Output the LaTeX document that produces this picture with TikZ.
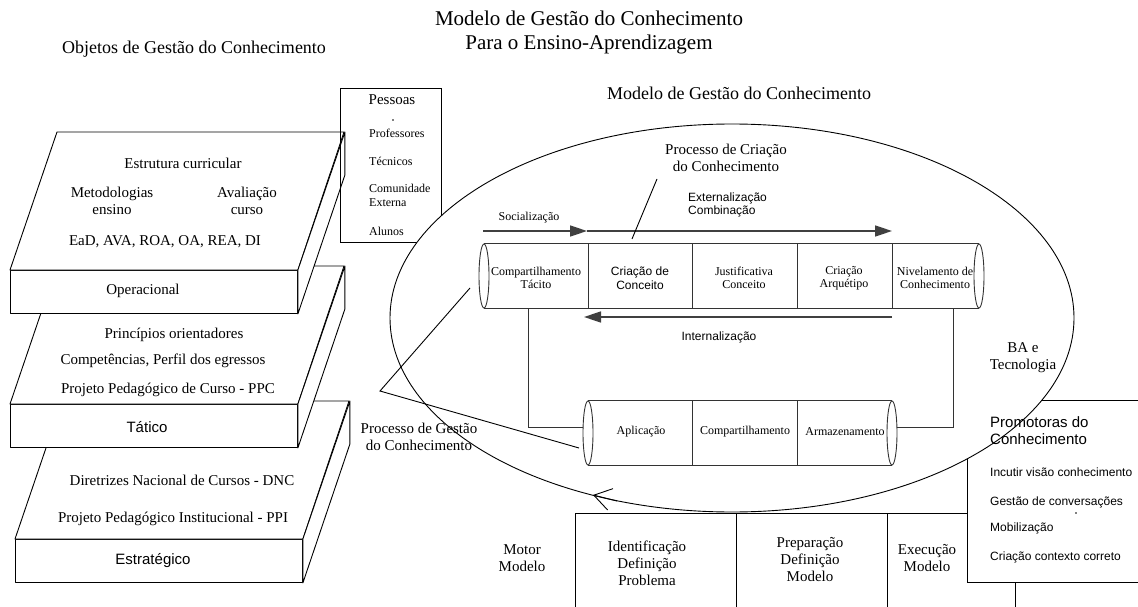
\documentclass[tikz,border=0pt]{standalone}
\usepackage{fontspec}
\setmainfont{Liberation Serif}
\setsansfont{Liberation Sans}
\usetikzlibrary{shapes.geometric,arrows.meta}

\def\dx{47}
\def\dy{138}

\begin{document}
\begin{tikzpicture}[x=1pt,y=-1pt]
        \tikzstyle{slab}  = [draw, fill=white, line width=0.9pt, line join=round]
        \tikzstyle{front} = [slab, minimum width=287pt, minimum height=43pt, inner sep=0pt, anchor=north west]
        \tikzstyle{txt}   = [inner sep=0pt, align=center]
        \tikzstyle{big}   = [txt, font=\fontsize{15}{17}\selectfont]
        \tikzstyle{bigsf} = [txt, font=\sffamily\fontsize{15}{17}\selectfont]
        \tikzstyle{small} = [txt, font=\fontsize{12}{13.5}\selectfont]
        \tikzstyle{smallsf} = [txt, font=\sffamily\fontsize{12}{13.5}\selectfont]
        \tikzstyle{tampa} = [draw=black!80, ellipse, minimum width=10pt, minimum height=64pt, inner sep=0pt, line width=0.9pt]
        \tikzstyle{tube}  = [draw=black!80, line width=0.9pt]
        \tikzstyle{flow}  = [draw=black!75, line width=1.6pt, -{Triangle[length=17pt,width=11pt]}]
        \tikzstyle{rowcell} = [draw, line width=0.9pt, minimum height=110pt, inner sep=0pt, anchor=north west]
        \tikzstyle{ponto} = [circle, fill=black, minimum size=1.6pt, inner sep=0pt]
        \useasboundingbox (0,0) rectangle (1138,607);

        % titulos
        \node[txt, font=\fontsize{21}{24}\selectfont] (titulo) at (589,32) {Modelo de Gestão do Conhecimento\\Para o Ensino-Aprendizagem};
        \node[txt, font=\fontsize{18}{20}\selectfont] (objetos) at (194,49) {Objetos de Gestão do Conhecimento};
        \node[txt, font=\fontsize{18}{20}\selectfont] (modelo) at (739,93) {Modelo de Gestão do Conhecimento};

        % camadas
        \foreach \x/\y/\s in {15/539/estr, 10/404/tat, 10/270/oper}
        {
                \node[front] (\s) at (\x,\y) {};
                \draw[slab] (\s.north west) -- ++(\dx,-\dy) -- ++(287,0) -- (\s.north east) -- cycle;
                \draw[slab] (\s.north east) -- ++(\dx,-\dy) -- ++(0,43) -- (\s.south east) -- cycle;
        }
        \node[big] (estrut) at (183,163) {Estrutura curricular};
        \node[big] (metod) at (112,201) {Metodologias\\ensino};
        \node[big] (aval) at (247,201) {Avaliação\\curso};
        \node[big] (ead) at (165,242) {EaD, AVA, ROA, OA, REA, DI};
        \node[big] (operl) at (143,291) {Operacional};
        \node[big] (princ) at (174,335) {Princípios orientadores};
        \node[big] (compet) at (163,361) {Competências, Perfil dos egressos};
        \node[big] (ppc) at (168,390) {Projeto Pedagógico de Curso - PPC};
        \node[bigsf] (tatl) at (147,427) {Tático};
        \node[big] (dnc) at (182,480) {Diretrizes Nacional de Cursos - DNC};
        \node[big] (ppi) at (173,519) {Projeto Pedagógico Institucional - PPI};
        \node[bigsf] (estrl) at (153,561) {Estratégico};

        % pessoas
        \node[draw, line width=0.9pt, minimum width=101pt, minimum height=154pt, inner sep=0pt, anchor=north west] (pessoas) at (340,88) {};
        \node[big] (pes) at (392,100) {Pessoas};
        \node[ponto] (pdot) at (393,120) {};
        \foreach \y/\t in {133/Professores, 161/Técnicos, 195.5/{Comunidade\\Externa}, 231/Alunos}
                \node[small, anchor=west, align=left] at (369,\y) {\t};

        % motor
        \foreach \a/\w [count=\i] in {575/161, 736/151, 887/128, 1015/130}
                \node[rowcell, minimum width=\w pt] (m\i) at (\a,513) {};
        \node[draw, fill=white, line width=0.9pt, minimum width=175pt, minimum height=182pt, inner sep=0pt, anchor=north west] (promo) at (967,400) {};

        % modelo
        \node[draw, ellipse, fill=white, minimum width=684pt, minimum height=388pt, inner sep=0pt, line width=0.9pt] (elipse) at (732,318) {};
        \draw[line width=0.9pt, -{Straight Barb[length=17pt,width=22pt]}] (617,501) -- (593,495);

        % cilindro superior
        \node[tampa] (c1w) at (484,276) {};
        \node[tampa] (c1e) at (979,276) {};
        \draw[tube] (c1w.north) -- (c1e.north);
        \draw[tube] (c1w.south) -- (c1e.south);
        \foreach \x in {588,692,797,892}
                \draw[tube] (\x,244) -- (\x,308);
        \foreach \x/\t [count=\i] in {536/{Compartilhamento\\Tácito}, 640/{Criação de\\Conceito}, 744/{Justificativa\\Conceito}, 844/{Criação\\Arquétipo}, 935/{Nivelamento de\\Conhecimento}}
        {
                \ifnum \i = 2
                        \node[smallsf] (a\i) at (\x,278) {\t};
                \else
                        \node[small] (a\i) at (\x,278) {\t};
                \fi
        }

        % cilindro inferior
        \node[tampa] (c2w) at (588,433) {};
        \node[tampa] (c2e) at (892,433) {};
        \draw[tube] (c2w.north) -- (c2e.north);
        \draw[tube] (c2w.south) -- (c2e.south);
        \foreach \x in {692,797}
                \draw[tube] (\x,401) -- (\x,465);
        \node[small] (b1) at (641,432) {Aplicação};
        \node[small] (b2) at (745,432) {Compartilhamento};
        \node[small] (b3) at (845,432) {Armazenamento};

        % ligacoes
        \coordinate (k1) at (528,308);
        \coordinate (k2) at (953,308);
        \draw[tube] (k1) |- ([yshift=6pt]c2w.west);
        \draw[tube] (k2) |- ([yshift=6pt]c2e.east);

        % fases
        \coordinate (s0) at (483,231);
        \coordinate (s1) at (587,231);
        \coordinate (s2) at (892,231);
        \coordinate (i0) at (892,317);
        \coordinate (i1) at (584,317);
        \draw[flow] (s0) -- (s1);
        \draw[flow] (s1) -- (s2);
        \draw[flow] (i0) -- (i1);
        \node[small] (soc) at (529,218) {Socialização};
        \node[smallsf, anchor=west, align=left] (ext) at (688,205) {Externalização\\Combinação};
        \node[smallsf] (int) at (719,337) {Internalização};

        % processos
        \node[big] (pcc) at (726,158) {Processo de Criação\\do Conhecimento};
        \coordinate (pcc0) at (657,179);
        \coordinate (pcc1) at (632,239);
        \draw[line width=0.9pt] (pcc0) -- (pcc1);
        \node[big] (pgc) at (419,437) {Processo de Gestão\\do Conhecimento};
        \coordinate (v) at (380,391);
        \coordinate (v1) at (470,288);
        \coordinate (v2) at (579,448);
        \draw[line width=0.9pt] (v1) -- (v) -- (v2);
        \node[big] (ba) at (1023,358) {BA e\\Tecnologia};

        % motor textos
        \node[big] (mot) at (522,558) {Motor\\Modelo};
        \node[big] (m1t) at (647,563) {Identificação\\Definição\\Problema};
        \node[big] (m2t) at (810,560) {Preparação\\Definição\\Modelo};
        \node[big] (m3t) at (927,558) {Execução\\Modelo};

        % promotoras
        \node[bigsf, anchor=west, align=left] (prom) at (990,431) {Promotoras do\\Conhecimento};
        \foreach \y/\t in {472/Incutir visão conhecimento, 502/Gestão de conversações, 528/Mobilização, 557/Criação contexto correto}
                \node[smallsf, anchor=west] at (990,\y) {\t};
        \node[ponto] (qdot) at (1076,513) {};
\end{tikzpicture}
\end{document}
